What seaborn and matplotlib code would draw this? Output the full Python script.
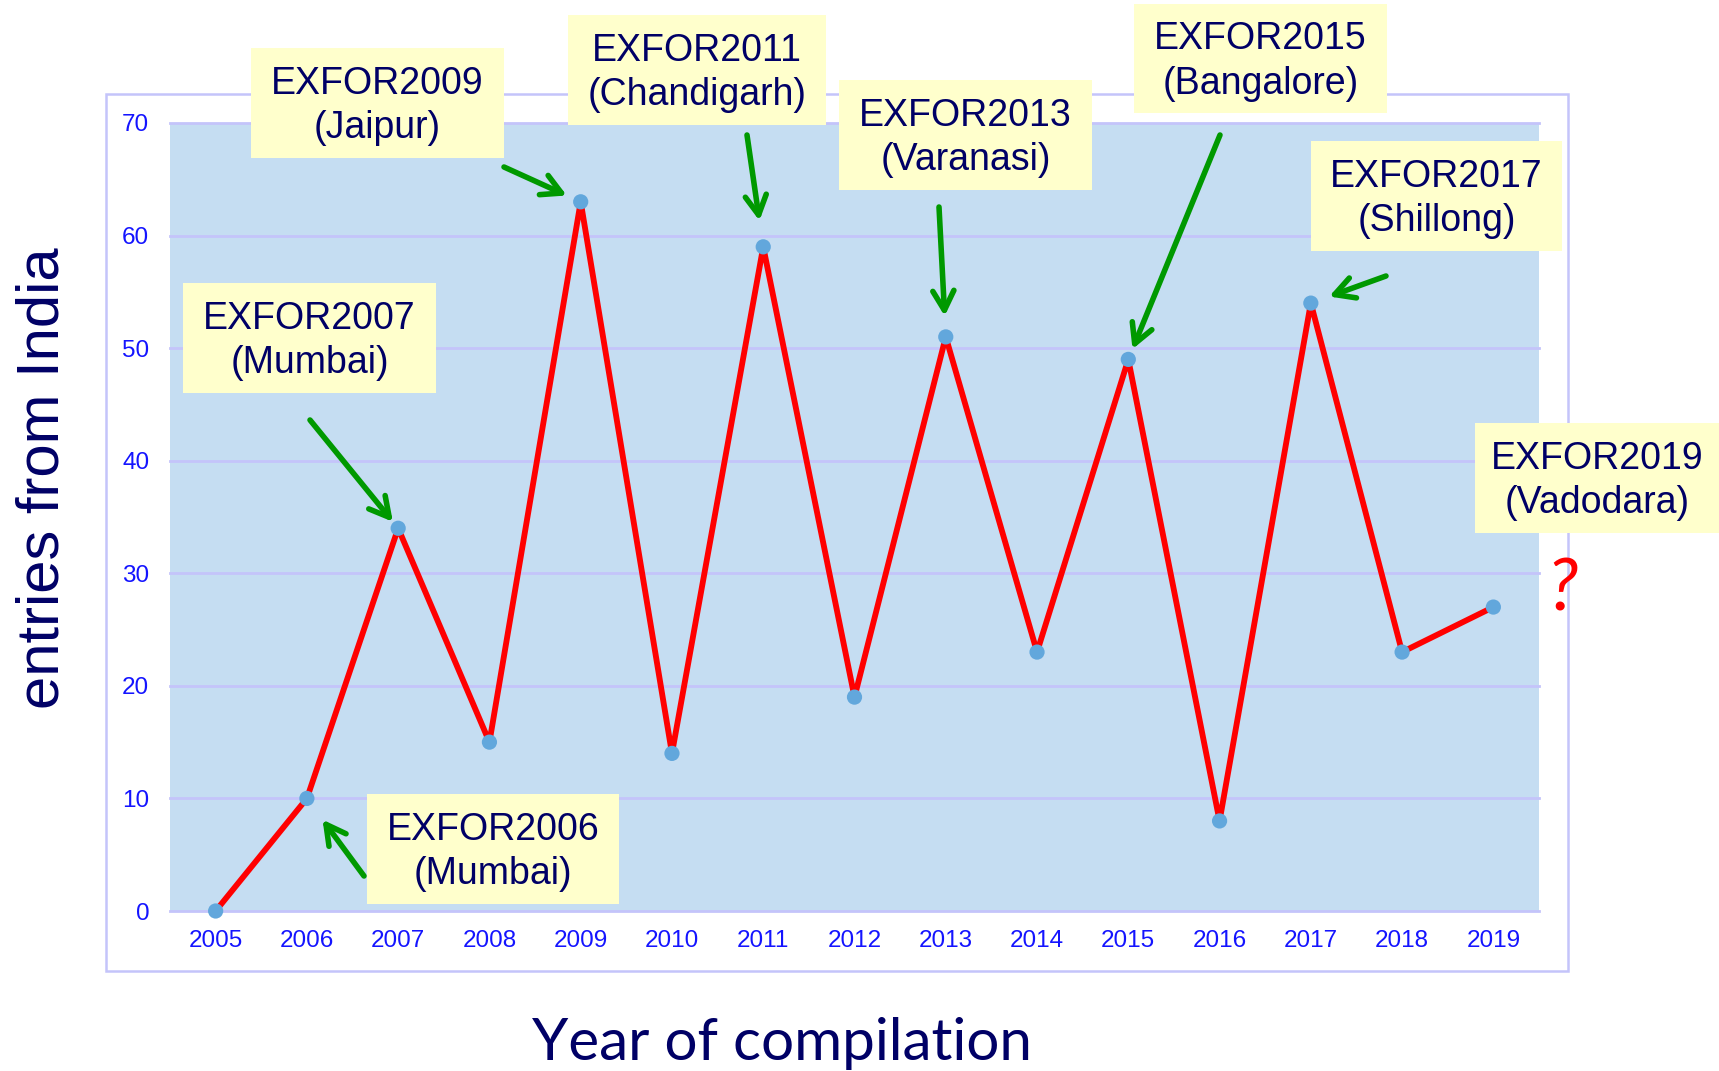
import matplotlib
matplotlib.use("Agg")
import matplotlib.pyplot as plt
from matplotlib.patches import Rectangle
import seaborn as sns
import numpy as np

# ---- data ----
years = [2005, 2006, 2007, 2008, 2009, 2010, 2011, 2012, 2013, 2014, 2015, 2016, 2017, 2018, 2019]
entries = [0, 10, 34, 15, 63, 14, 59, 19, 51, 23, 49, 8, 54, 23, 27]
y_ticks = [0, 10, 20, 30, 40, 50, 60, 70]

ann_years = [2006, 2007, 2009, 2011, 2013, 2015, 2017]
ann_labels = ["EXFOR2006\n(Mumbai)", "EXFOR2007\n(Mumbai)", "EXFOR2009\n(Jaipur)",
              "EXFOR2011\n(Chandigarh)", "EXFOR2013\n(Varanasi)", "EXFOR2015\n(Bangalore)",
              "EXFOR2017\n(Shillong)"]
future_label = "EXFOR2019\n(Vadodara)"

# ---- layout (pixels in a 1719x1071 canvas) ----
W, H = 1719, 1071
def ff(x, y):
    return (x / W, 1 - y / H)

box_px = [(367, 794, 619, 904), (183, 283, 436, 393), (251, 48, 504, 158),
          (568, 15, 826, 125), (839, 80, 1092, 190), (1134, 4, 1387, 113),
          (1311, 141, 1562, 251)]
future_box = (1475, 423, 1719, 533)
tail_px = [(364, 876), (310, 420), (504, 167), (747, 135), (939, 207), (1220, 135), (1386, 276)]
shrink_pts = [19, 6, 11, 19, 15, 8, 14]

navy = "#000066"
grid_col = "#c4c4fa"
bg_col = "#c5ddf2"
box_col = "#ffffcc"
green = "#009900"

fig = plt.figure(figsize=(W / 100, H / 100), dpi=100)
fig.patch.set_facecolor("white")
ax = fig.add_axes([170 / W, 1 - 911 / H, (1539 - 170) / W, (911 - 123) / H])
ax.set_facecolor(bg_col)

sns.lineplot(x=years, y=entries, ax=ax, color="#ff0000", linewidth=4.2, zorder=2)
sns.scatterplot(x=years, y=entries, ax=ax, color="#62a7dc", s=120, edgecolor="none",
                zorder=3, clip_on=False)

ax.set_xlim(years[0] - 0.5, years[-1] + 0.5)
ax.set_ylim(y_ticks[0], y_ticks[-1])
ax.set_xticks(years)
ax.set_xticklabels([str(y) for y in years])
ax.set_yticks(y_ticks)
ax.set_yticklabels([str(t) for t in y_ticks])
ax.tick_params(axis="both", length=0, labelsize=17.5, labelcolor="#1414ff")
ax.tick_params(axis="x", pad=14)
ax.tick_params(axis="y", pad=15)
for lbl in ax.get_xticklabels() + ax.get_yticklabels():
    lbl.set_fontfamily("Liberation Sans")
for s in ax.spines.values():
    s.set_visible(False)
for t in y_ticks:
    ax.axhline(t, color=grid_col, lw=2, zorder=1, clip_on=False)
ax.set_xlabel("")
ax.set_ylabel("")

# outer frame
fig.patches.append(Rectangle(ff(106, 971), (1568 - 106) / W, (971 - 94) / H,
                             transform=fig.transFigure, fill=False,
                             edgecolor=grid_col, lw=1.8, zorder=1))

def draw_box(b, text):
    x0, y0, x1, y1 = b
    fig.patches.append(Rectangle(ff(x0, y1), (x1 - x0) / W, (y1 - y0) / H,
                                 transform=fig.transFigure, facecolor=box_col,
                                 edgecolor="none", zorder=2))
    cx, cy = ff((x0 + x1) / 2, (y0 + y1) / 2 + 3)
    fig.text(cx, cy, text, ha="center", va="center", multialignment="center",
             fontsize=27, color=navy, family="Liberation Sans", linespacing=1.32, zorder=4)

for yr, lab, b, tp, sh in zip(ann_years, ann_labels, box_px, tail_px, shrink_pts):
    draw_box(b, lab)
    val = entries[years.index(yr)]
    ax.annotate("", xy=(yr, val), xycoords="data", xytext=ff(*tp),
                textcoords="figure fraction", annotation_clip=False,
                arrowprops=dict(arrowstyle="->,head_length=0.7,head_width=0.38",
                                mutation_scale=20, color=green, lw=4.0,
                                shrinkA=0, shrinkB=sh))
draw_box(future_box, future_label)

qx, qy = ff(1562, 590)
fig.text(qx, qy, "?", ha="center", va="center", fontsize=52, color="#ff0000",
         style="italic", family="Lato", zorder=4)

# axis titles
yx, yy = ff(43, 478)
fig.text(yx, yy, "entries from India", rotation=90, ha="center", va="center",
         fontsize=43, color=navy, family="Liberation Sans")
xx, xy_ = ff(782, 1044)
fig.text(xx, xy_, "Year of compilation", ha="center", va="center",
         fontsize=42, color=navy, family="Lato")

fig.savefig("out.png", dpi=100)
